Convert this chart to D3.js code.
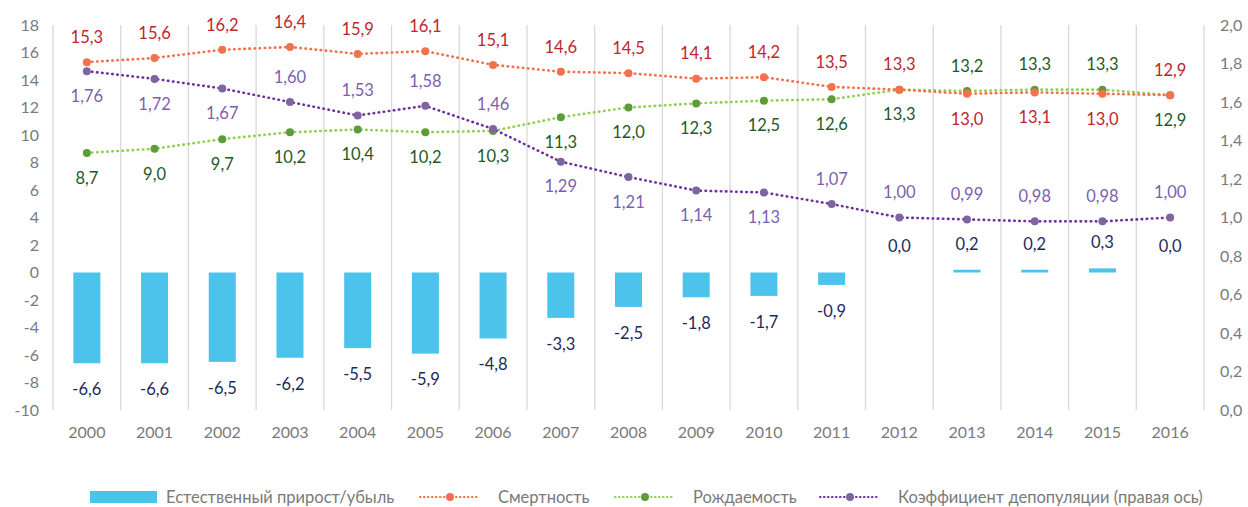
<!DOCTYPE html>
<html>
<head>
<meta charset="utf-8">
<script src="https://cdn.jsdelivr.net/npm/d3@7"></script>
<style>
  body { margin: 0; background: #fff; }
  svg text { font-family: Lato, "Open Sans", sans-serif; }
</style>
</head>
<body>
<svg id="chart"></svg>
<script>
var WIDTH = 1248;
var HEIGHT = 507;

//data
var years = ["2000","2001","2002","2003","2004","2005","2006","2007","2008","2009","2010","2011","2012","2013","2014","2015","2016"];
var natural = [-6.6,-6.6,-6.5,-6.2,-5.5,-5.9,-4.8,-3.3,-2.5,-1.8,-1.7,-0.9,0.0,0.2,0.2,0.3,0.0];
var mortality = [15.3,15.6,16.2,16.4,15.9,16.1,15.1,14.6,14.5,14.1,14.2,13.5,13.3,13.0,13.1,13.0,12.9];
var birth = [8.7,9.0,9.7,10.2,10.4,10.2,10.3,11.3,12.0,12.3,12.5,12.6,13.3,13.2,13.3,13.3,12.9];
var depop = [1.76,1.72,1.67,1.60,1.53,1.58,1.46,1.29,1.21,1.14,1.13,1.07,1.00,0.99,0.98,0.98,1.00];
// label placement: 1 = above the point, -1 = below
var mortalityPos = [1,1,1,1,1,1,1,1,1,1,1,1,1,-1,-1,-1,1];
var birthPos = [-1,-1,-1,-1,-1,-1,-1,-1,-1,-1,-1,-1,-1,1,1,1,-1];
var depopPos = [-1,-1,-1,1,1,1,1,-1,-1,-1,-1,1,1,1,1,1,1];
var leftTicks = d3.range(-10, 19, 2);
var rightTicks = d3.range(0, 2.01, 0.2);
var legendNames = ["Естественный прирост/убыль", "Смертность", "Рождаемость", "Коэффициент депопуляции (правая ось)"];

var fmt1 = function (v) { return d3.format(".1f")(v).replace(".", ",").replace("−", "-"); };
var fmt2 = function (v) { return d3.format(".2f")(v).replace(".", ","); };

var svg = d3.select("#chart").attr("width", WIDTH).attr("height", HEIGHT);

//scales
var x = d3.scaleBand().domain(years).range([53, 1204]).padding(0);
var y = d3.scaleLinear().domain([-10, 18]).range([410, 25]);
var y2 = d3.scaleLinear().domain([0, 2]).range([410, 25]);
var cx = function (d, i) { return x(years[i]) + x.bandwidth() / 2; };

//vertical grid lines between categories
svg.append("g")
  .selectAll("line")
  .data(years.concat(["end"]))
  .enter()
  .append("line")
  .attr("x1", function (d, i) { return 53 + i * x.bandwidth(); })
  .attr("x2", function (d, i) { return 53 + i * x.bandwidth(); })
  .attr("y1", y(18))
  .attr("y2", y(-10))
  .style("stroke", "#d9d9d9")
  .style("stroke-width", "1.3px");

//axes
var leftAxis = svg.append("g")
  .attr("transform", "translate(39,0)")
  .call(d3.axisLeft(y).tickValues(leftTicks).tickSize(0).tickPadding(0).tickFormat(function (d) { return String(d).replace("−", "-"); }));
var rightAxis = svg.append("g")
  .attr("transform", "translate(1220,0)")
  .call(d3.axisRight(y2).tickValues(rightTicks).tickSize(0).tickPadding(0).tickFormat(fmt1));
var bottomAxis = svg.append("g")
  .attr("transform", "translate(0,433)")
  .call(d3.axisBottom(x).tickSize(0).tickPadding(0));
[leftAxis, rightAxis, bottomAxis].forEach(function (a) {
  a.select(".domain").remove();
  a.selectAll("text").style("fill", "#7a7a7a").style("font-size", "16px");
});
bottomAxis.selectAll("text").attr("dy", "0.32em");

//bars
var barW = 27;
svg.append("g")
  .selectAll("rect")
  .data(natural)
  .enter()
  .append("rect")
  .attr("x", function (d, i) { return cx(d, i) - barW / 2; })
  .attr("width", barW)
  .attr("y", function (d) { return y(Math.max(0, d)); })
  .attr("height", function (d) { return Math.abs(y(d) - y(0)); })
  .style("fill", "#4bc3eb");

svg.append("g")
  .selectAll("text")
  .data(natural)
  .enter()
  .append("text")
  .attr("x", cx)
  .attr("y", function (d) { return d < 0 ? y(d) + 26 : y(d) - 26; })
  .attr("dy", "0.35em")
  .attr("text-anchor", "middle")
  .style("font-size", "16.5px")
  .style("fill", "#1f2a5c")
  .text(fmt1);

//lines
function drawSeries(values, scale, lineColor, dotColor, labelColor, pos, format) {
  var line = d3.line().x(cx).y(function (d) { return scale(d); });
  var g = svg.append("g");
  g.append("path")
    .attr("d", line(values))
    .style("fill", "none")
    .style("stroke", lineColor)
    .style("stroke-width", "2.6px")
    .style("stroke-linecap", "round")
    .style("stroke-dasharray", "0.5 4.6");
  g.selectAll("circle")
    .data(values)
    .enter()
    .append("circle")
    .attr("cx", cx)
    .attr("cy", function (d) { return scale(d); })
    .attr("r", 4)
    .style("fill", dotColor);
  g.selectAll("text")
    .data(values)
    .enter()
    .append("text")
    .attr("x", cx)
    .attr("y", function (d, i) { return scale(d) - pos[i] * 25; })
    .attr("dy", "0.35em")
    .attr("text-anchor", "middle")
    .style("font-size", "16.5px")
    .style("fill", labelColor)
    .text(format);
}

drawSeries(birth, y, "#92d050", "#5e9c3a", "#1e5a28", birthPos, fmt1);
drawSeries(mortality, y, "#f4714d", "#f4714d", "#c0252d", mortalityPos, fmt1);
drawSeries(depop, y2, "#7030a0", "#8064a2", "#7d5fb0", depopPos, fmt2);

//legend
var legendX = [90, 420, 615, 820];
var legend = svg.append("g").attr("transform", "translate(0,497)");
legend.append("rect")
  .attr("x", legendX[0]).attr("y", -6).attr("width", 67).attr("height", 12)
  .style("fill", "#4bc3eb");
var legendLines = [
  { c: "#f4714d", m: "#f4714d" },
  { c: "#92d050", m: "#5e9c3a" },
  { c: "#7030a0", m: "#8064a2" }
];
legendLines.forEach(function (l, i) {
  var lx = legendX[i + 1];
  legend.append("line")
    .attr("x1", lx).attr("x2", lx + 60).attr("y1", 0).attr("y2", 0)
    .style("stroke", l.c).style("stroke-width", "2.2px")
    .style("stroke-linecap", "round").style("stroke-dasharray", "0.5 3.5");
  legend.append("circle").attr("cx", lx + 30).attr("cy", 0).attr("r", 4).style("fill", l.m);
});
legend.selectAll("text.leg")
  .data(legendNames)
  .enter()
  .append("text")
  .attr("class", "leg")
  .attr("x", function (d, i) { return i === 0 ? legendX[0] + 76 : legendX[i] + 78; })
  .attr("y", 0)
  .attr("dy", "0.35em")
  .style("font-size", "16.5px")
  .style("fill", "#7a7a7a")
  .text(function (d) { return d; });
</script>
</body>
</html>
